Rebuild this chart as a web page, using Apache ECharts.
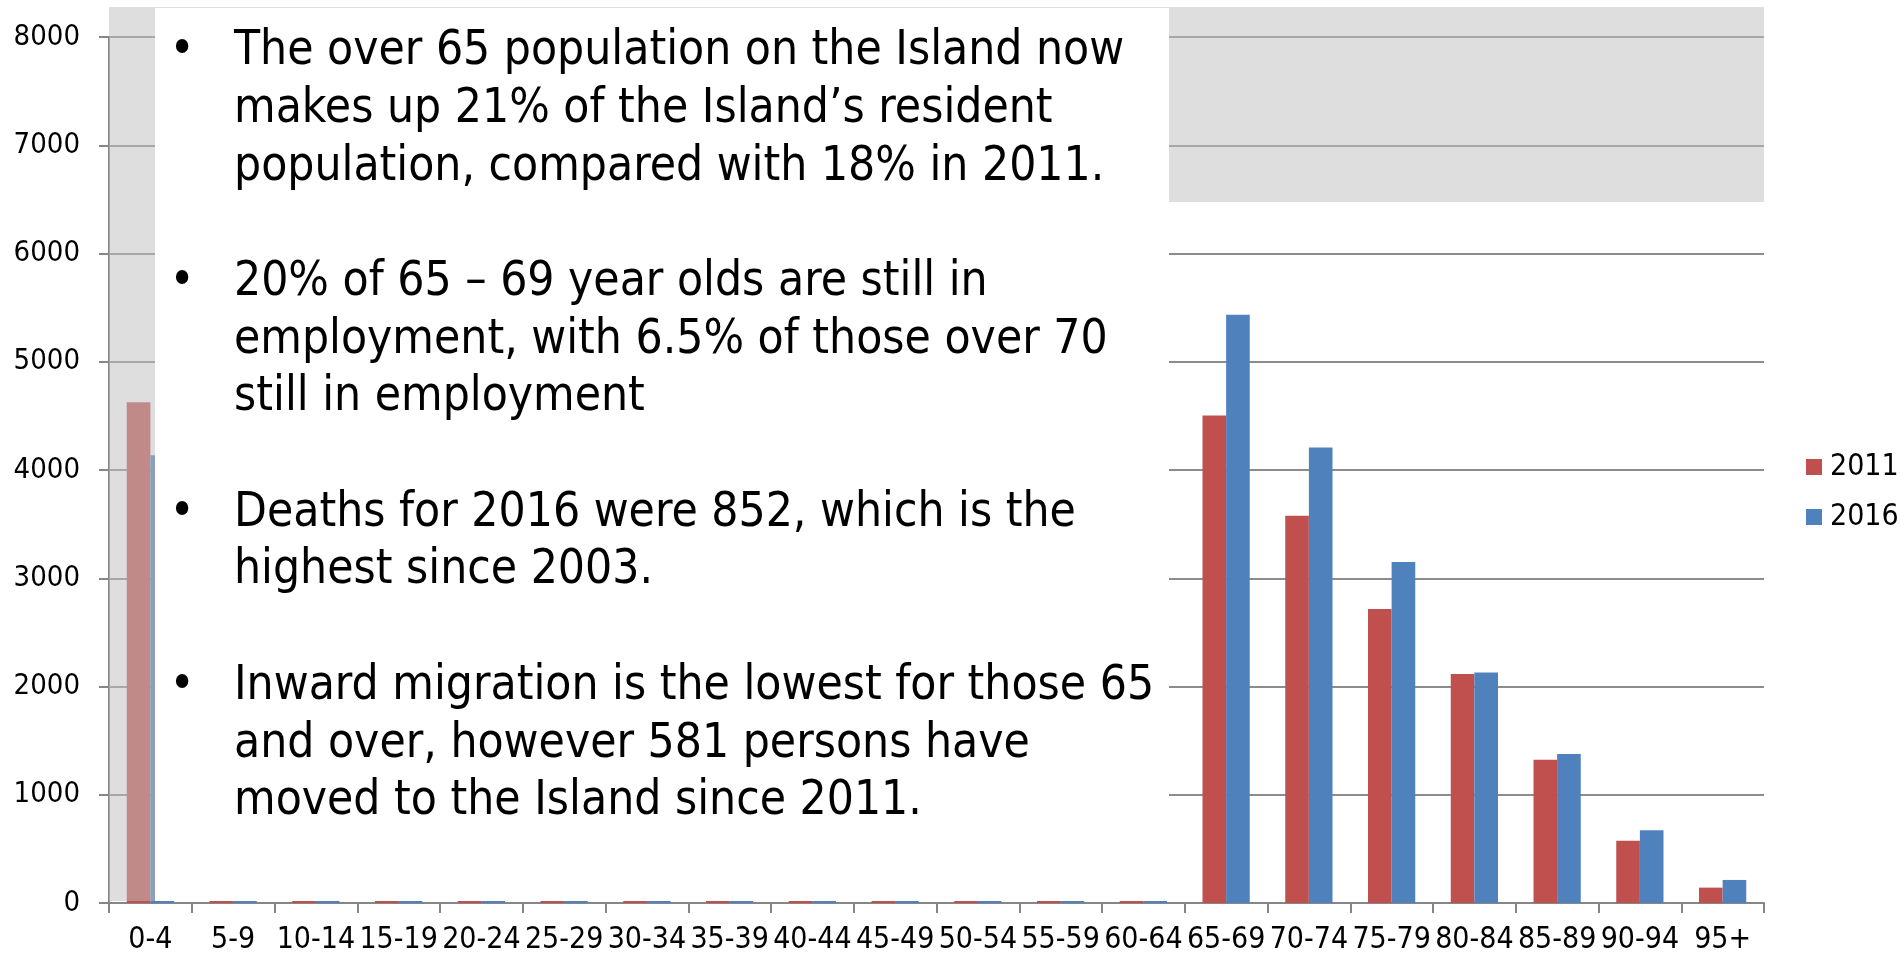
<!DOCTYPE html>
<html>
<head>
<meta charset="utf-8">
<style>
html,body{margin:0;padding:0;background:#fff;}
#chart{width:1901px;height:959px;}
</style>
<script src="https://cdn.jsdelivr.net/npm/echarts@6/dist/echarts.min.js"></script>
</head>
<body>
<div id="chart"></div>
<script>
const categories = ['0-4','5-9','10-14','15-19','20-24','25-29','30-34','35-39','40-44','45-49','50-54','55-59','60-64','65-69','70-74','75-79','80-84','85-89','90-94','95+'];
const values2011 = [4626,20,20,20,20,20,20,20,20,20,20,20,20,4503,3577,2717,2116,1323,576,142];
const values2016 = [4137,20,20,20,20,20,20,20,20,20,20,20,20,5434,4207,3151,2129,1377,672,213];
const yTicks = [0,1000,2000,3000,4000,5000,6000,7000,8000];
const bulletLines = [
  'The over 65 population on the Island now',
  'makes up 21% of the Island\u2019s resident',
  'population, compared with 18% in 2011.',
  '',
  '20% of 65 \u2013 69 year olds are still in',
  'employment, with 6.5% of those over 70',
  'still in employment',
  '',
  'Deaths for 2016 were 852, which is the',
  'highest since 2003.',
  '',
  'Inward migration is the lowest for those 65',
  'and over, however 581 persons have',
  'moved to the Island since 2011.'
];
const bulletStarts = [0,4,8,11];

const FONT = '"DejaVu Sans Condensed","DejaVu Sans",sans-serif';
const chart = echarts.init(document.getElementById('chart'), null, {renderer:'canvas'});
const LH = 57.7;
const bulletText = bulletLines.map((l,i)=> bulletStarts.includes(i) ? '\u2022' : '').join('\n');

chart.setOption({
  animation:false,
  backgroundColor:'#ffffff',
  grid:{left:109, right:137, top:37, bottom:56, containLabel:false},
  legend:{
    orient:'vertical', left:1806, top:452, padding:0, itemWidth:16, itemHeight:16, itemGap:20,
    icon:'rect',
    textStyle:{fontFamily:FONT, fontSize:30, color:'#000', lineHeight:30, padding:[0,0,0,3]},
    data:['2011','2016']
  },
  xAxis:{
    type:'category', data:categories,
    axisLine:{lineStyle:{color:'#868686', width:2}},
    axisTick:{show:true, length:10, lineStyle:{color:'#868686', width:2}},
    axisLabel:{fontFamily:FONT, fontSize:30, color:'#000', margin:22, interval:0}
  },
  yAxis:{
    type:'value', min:yTicks[0], max:yTicks[yTicks.length-1], interval:1000,
    axisLine:{show:true, lineStyle:{color:'#868686', width:2}},
    axisTick:{show:true, length:10, lineStyle:{color:'#868686', width:2}},
    axisLabel:{fontFamily:FONT, fontSize:29, color:'#000', margin:29, formatter:function(v){return String(v);}},
    splitLine:{show:true, lineStyle:{color:'#8c8c8c', width:2}}
  },
  series:[
    {name:'2011', type:'bar', data:values2011, barGap:'0%', barCategoryGap:'42.9%', itemStyle:{color:'#c0504d'}},
    {name:'2016', type:'bar', data:values2016, barGap:'0%', barCategoryGap:'42.9%', itemStyle:{color:'#4f81bd'}}
  ],
  graphic:[
    {type:'rect', z:100, silent:true, shape:{x:109, y:7, width:1655, height:195}, style:{fill:'rgba(192,192,192,0.52)'}},
    {type:'rect', z:100, silent:true, shape:{x:109, y:202, width:46, height:699}, style:{fill:'rgba(192,192,192,0.52)'}},
    {type:'rect', z:101, silent:true, shape:{x:155, y:8, width:1014, height:893}, style:{fill:'#ffffff'}},
    {type:'text', z:102, silent:true, x:182, y:23, style:{text:bulletText, font:'47.5px '+FONT, lineHeight:LH, fill:'#000', align:'center', verticalAlign:'top'}},
    {type:'text', z:102, silent:true, x:234, y:23, style:{text:bulletLines.join('\n'), font:'47.5px '+FONT, lineHeight:LH, fill:'#000', align:'left', verticalAlign:'top'}}
  ]
});
</script>
</body>
</html>
